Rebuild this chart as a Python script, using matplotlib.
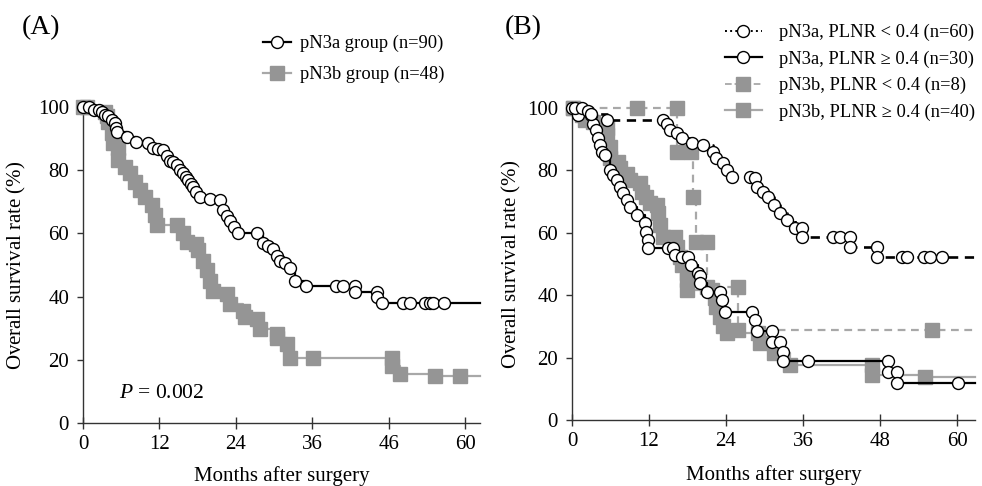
import matplotlib
matplotlib.use("Agg")
import matplotlib.pyplot as plt
from matplotlib.lines import Line2D

plt.rcParams['font.family'] = ['Liberation Serif', 'DejaVu Serif']
plt.rcParams['mathtext.fontset'] = 'custom'
plt.rcParams['mathtext.rm'] = 'Liberation Serif'
plt.rcParams['mathtext.it'] = 'Liberation Serif:italic'

# ---- Panel A data (months, survival %) ----
a_pn3a_x = [0, 1, 1.8, 2.5, 3, 3.5, 4, 4.5, 5, 5.2, 5.3, 6.9, 8.4, 10.2, 11, 11.8, 12.6, 13.2, 13.7,
            14.2, 14.7, 15.2, 15.7, 16.1, 16.5, 16.9, 17.3, 17.8, 18.4, 20, 21.5, 22, 22.6, 23.1,
            23.7, 24.4, 27.3, 28.3, 29.1, 29.8, 30.4, 31, 31.8, 32.5, 33.3, 35.1, 39.8, 40.9, 42.7,
            42.7, 46.1, 46.1, 46.9, 50.3, 51.3, 53.7, 54.5, 55, 56.7]
a_pn3a_y = [100, 100, 99, 99, 98.5, 97.5, 97, 96, 95, 93.5, 92, 90.6, 89, 88.6, 87, 86.8, 86.3, 84.5, 83,
            82.5, 81.5, 80, 79, 77.8, 76.8, 75.5, 74.6, 73, 71.4, 71, 70.5, 67.3, 65.5, 64,
            62, 60, 60, 57, 56, 55, 53, 51.4, 50.5, 49.2, 45, 43.2, 43.2, 43.2, 43.2,
            41.5, 41.5, 40, 38, 38, 38, 38, 38, 38, 38]
a_pn3b_x = [0, 0.6, 3.5, 3.7, 3.9, 4.5, 4.7, 5.5, 5.5, 6.6, 7.4, 8.2, 9, 9.7, 10.8, 11.3, 11.6, 14.7,
            15.7, 16.3, 17.8, 18.1, 18.9, 19.4, 20, 20.4, 22.6, 23.1, 25.1, 25.4, 27.3, 27.8,
            30.4, 30.5, 32, 32.5, 36.1, 48.5, 48.5, 49.8, 55.3, 59.2]
a_pn3b_y = [100, 100, 98.5, 97, 95.3, 91.7, 88.6, 87, 83.2, 81, 79, 76.3, 73.6, 71.5, 68.9, 65.7, 62.5,
            62.5, 60, 57.2, 56.8, 54.6, 51.4, 48.3, 45, 41.9, 40.9, 37.8, 35.6, 33.4, 33, 29.8,
            28.2, 27, 25, 20.7, 20.7, 20.7, 18, 15.5, 15, 15]

# ---- Panel B data ----
b_s1_x = [0.5, 1.5, 2.5, 3, 5.4, 14.2, 14.8, 15.3, 16.3, 17.1, 18.7, 20.4, 22, 22.5, 23.6, 24.1, 24.9,
          27.7, 28.5, 28.8, 29.8, 30.6, 31.4, 32.4, 33.5, 34.8, 35.8, 35.8, 40.7, 41.8, 43.3, 43.3,
          47.5, 47.5, 51.4, 52.2, 54.8, 55.8, 57.6]
b_s1_y = [100, 100, 99, 98, 96, 96, 95, 93, 92, 90.4, 88.8, 88, 86, 84, 82.4, 80, 78,
          78, 77.6, 74.8, 73.2, 71.6, 68.9, 66.3, 64, 61.5, 61.5, 58.8, 58.8, 58.8, 58.8, 55.5,
          55.5, 52.3, 52.3, 52.3, 52.3, 52.3, 52.3]
b_s2_x = [0, 1, 3, 3.3, 3.8, 4.1, 4.4, 4.6, 5.1, 5.9, 6.4, 7, 7.5, 8, 8.5, 9, 10.1, 11.4, 11.6, 11.9,
          11.9, 15, 15.7, 16, 17.1, 18.1, 18.6, 19.6, 19.9, 19.9, 21, 23, 23.3, 23.8, 28, 28.5, 28.8,
          31.1, 31.1, 32.4, 32.9, 32.9, 36.8, 49.2, 49.2, 50.6, 50.6, 60.2]
b_s2_y = [100, 97.8, 97.8, 95, 93, 90.4, 88, 86, 85, 80, 78.5, 77, 74.8, 72.7, 70.5, 68.4, 65.7, 63,
          60.4, 57.7, 55, 55, 55, 53, 52.4, 52.4, 49.7, 47, 46, 44, 41.1, 41.1, 38.5, 34.7, 34.7, 32,
          28.5, 28.5, 25, 25, 21.9, 19, 19, 19, 15.5, 15.5, 11.8, 11.8]
b_s3_x = [0.2, 10.1, 16.3, 16.3, 18.6, 18.9, 19.4, 21, 21, 25.9, 25.9, 56.1]
b_s3_y = [100, 100, 100, 86, 86, 71.6, 57.2, 57.2, 42.7, 42.7, 28.8, 28.8]
b_s4_x = [0.2, 1.5, 2, 3.3, 5.4, 5.4, 5.9, 5.9, 7.2, 7.5, 8.5, 9, 10.6, 10.9, 11.6, 12.2, 13.2, 13.4,
          13.7, 14.2, 16, 16.3, 16.8, 17.1, 17.9, 17.9, 17.9, 21.8, 22.3, 22.5, 23, 23.5, 24.1, 29,
          29.3, 31.4, 34, 46.7, 46.7, 55]
b_s4_y = [100, 97.8, 96, 95.6, 93.6, 91.3, 87.6, 84, 82.8, 80.8, 79, 77, 76, 73.2, 71.6, 69.5, 68.9,
          66.3, 62.5, 58.8, 58.8, 55.5, 52.3, 49.7, 47, 44.9, 41.7, 41.7, 39, 36.3, 33, 30, 27.8, 27.8,
          24.6, 21.4, 17.6, 17.6, 14.4, 13.9]

GRAY = '#959595'
LGRAY = '#a8a8a8'
CMS = 8.6   # circle marker size
SMS = 9.6   # square marker size


def km(ax, xs, ys, xend, marker, mfc, mec, ms, color, lw, ls, dashes=None):
    px = list(xs) + [xend]
    py = list(ys) + [ys[-1]]
    ln, = ax.plot(px, py, drawstyle='steps-post', color=color, lw=lw, ls=ls,
                  marker=marker, markevery=list(range(len(xs))), ms=ms,
                  mfc=mfc, mec=mec, mew=1.0, clip_on=False, zorder=3)
    if dashes is not None:
        ln.set_dashes(dashes)
    return ln


def style_axes(ax, xlabels, xmax, ylab_x, xlab_y):
    ax.set_xlim(0, xmax)
    ax.set_ylim(0, 100)
    ax.set_xticks([0, 12, 24, 36, 48, 60])
    ax.set_xticklabels(xlabels)
    ax.set_yticks([0, 20, 40, 60, 80, 100])
    for s in ['top', 'right']:
        ax.spines[s].set_visible(False)
    for s in ['left', 'bottom']:
        ax.spines[s].set_color('#333333')
        ax.spines[s].set_linewidth(1.0)
    ax.tick_params(axis='x', direction='inout', length=9, width=1, color='#333333',
                   labelsize=15, pad=4)
    ax.tick_params(axis='y', direction='out', length=4, width=1, color='#333333',
                   labelsize=15, pad=6)
    ax.set_ylabel(r'Overall survival rate $\mathit{(\%)}$', fontsize=15)
    ax.set_xlabel('Months after surgery', fontsize=15)
    ax.yaxis.set_label_coords(ylab_x, 0.5)
    ax.xaxis.set_label_coords(0.5, xlab_y)


fig = plt.figure(figsize=(9.82, 4.86), dpi=100)

# ---------- Panel A ----------
axA = fig.add_axes([83 / 982, 1 - 423 / 486, 397 / 982, 316 / 486])
km(axA, a_pn3b_x, a_pn3b_y, 62.3, 's', GRAY, GRAY, SMS, LGRAY, 1.6, '-')
km(axA, a_pn3a_x, a_pn3a_y, 62.3, 'o', 'white', 'black', CMS, 'black', 1.6, '-')
style_axes(axA, ['0', '12', '24', '36', '46', '60'], 62.35, -0.138, -0.135)
axA.text(5.6, 9.2, r'$P$ = 0.002', fontsize=15.5, va='center', ha='left')
fig.text(22 / 982, 1 - 28 / 486, '(A)', fontsize=20, va='center', ha='left')

legA = [Line2D([], [], color='black', lw=1.6, marker='o', ms=CMS, mfc='white', mec='black'),
        Line2D([], [], color=LGRAY, lw=1.6, marker='s', ms=SMS, mfc=GRAY, mec=GRAY)]
fig.legend(legA, ['pN3a group (n=90)', 'pN3b group (n=48)'], loc='upper left',
           bbox_to_anchor=(263 / 982, 1 - 35 / 486), frameon=False, fontsize=13.3,
           handlelength=1.5, handletextpad=0.5, labelspacing=0.75, borderpad=0, borderaxespad=0)

# ---------- Panel B ----------
axB = fig.add_axes([572 / 982, 1 - 420 / 486, 403 / 982, 312 / 486])
km(axB, b_s4_x, b_s4_y, 62.8, 's', GRAY, GRAY, SMS, LGRAY, 1.6, '-')
km(axB, b_s3_x, b_s3_y, 62.8, 's', GRAY, GRAY, SMS, LGRAY, 1.6, '--', dashes=(3.5, 2.5))
km(axB, b_s2_x, b_s2_y, 62.8, 'o', 'white', 'black', CMS, 'black', 1.6, '-')
km(axB, b_s1_x, b_s1_y, 62.8, 'o', 'white', 'black', CMS, 'black', 1.9, '--', dashes=(3.5, 2.5))
style_axes(axB, ['0', '12', '24', '36', '48', '60'], 62.8, -0.122, -0.145)
fig.text(505 / 982, 1 - 28 / 486, '(B)', fontsize=20, va='center', ha='left')

legB = [Line2D([], [], color='black', lw=1.4, ls=':', marker='o', ms=CMS, mfc='white', mec='black'),
        Line2D([], [], color='black', lw=1.6, marker='o', ms=CMS, mfc='white', mec='black'),
        Line2D([], [], color=LGRAY, lw=1.3, ls='--', marker='s', ms=SMS, mfc=GRAY, mec=GRAY),
        Line2D([], [], color=LGRAY, lw=1.6, marker='s', ms=SMS, mfc=GRAY, mec=GRAY)]
fig.legend(legB, ['pN3a, PLNR < 0.4 (n=60)', 'pN3a, PLNR \u2265 0.4 (n=30)',
                  'pN3b, PLNR < 0.4 (n=8)', 'pN3b, PLNR \u2265 0.4 (n=40)'],
           loc='upper left', bbox_to_anchor=(725 / 982, 1 - 24 / 486), frameon=False,
           fontsize=13.3, handlelength=2.0, handletextpad=0.9, labelspacing=0.5,
           borderpad=0, borderaxespad=0)

fig.savefig('out.png', dpi=100)
